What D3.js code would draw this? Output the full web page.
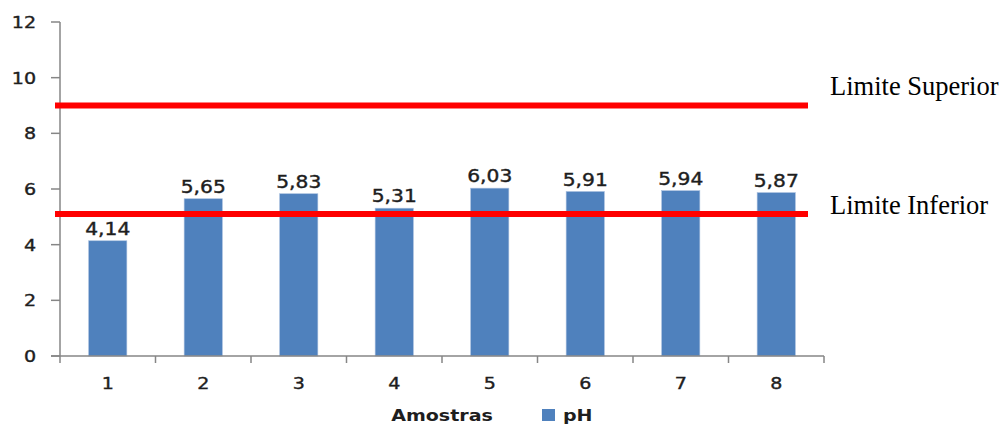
<!DOCTYPE html>
<html>
<head>
<meta charset="utf-8">
<script src="https://cdn.jsdelivr.net/npm/d3@7"></script>
<style>
  html, body { margin: 0; padding: 0; background: #fff; }
  svg { display: block; }
</style>
</head>
<body>
<svg id="chart" width="1003" height="425"></svg>
<script>
// pH per sample, with the lower and upper reference limits
const amostras = ["1", "2", "3", "4", "5", "6", "7", "8"];
const phValues = [4.14, 5.65, 5.83, 5.31, 6.03, 5.91, 5.94, 5.87];
const phLabels = ["4,14", "5,65", "5,83", "5,31", "6,03", "5,91", "5,94", "5,87"];
const yTicks = [0, 2, 4, 6, 8, 10, 12];
const limites = [
  { nome: "Limite Superior", valor: 9.0 },
  { nome: "Limite Inferior", valor: 5.1 }
];

const svg = d3.select("#chart");
const X0 = 60, X1 = 824, Y0 = 356, Y1 = 22;
const STRETCH = 1.19;
const axisColor = "#868686";
const textColor = "#1e1e1e";

const x = d3.scaleBand().domain(amostras).range([X0, X1])
  .paddingInner(0.6).paddingOuter(0.3);
const y = d3.scaleLinear().domain([0, 12]).range([Y0, Y1]);

// horizontally widened text, as in the spreadsheet rendering
function wideText(g, px, py, str, opts) {
  const t = g.append("text")
    .attr("transform", `translate(${px},${py}) scale(${STRETCH},1)`)
    .attr("text-anchor", opts.anchor || "middle")
    .attr("font-family", "'DejaVu Sans', Verdana, sans-serif")
    .attr("font-size", opts.size || 16)
    .attr("font-weight", opts.weight || "normal")
    .attr("fill", textColor)
    .text(str);
  if (!opts.weight) {
    t.attr("stroke", textColor).attr("stroke-width", 0.4);
  }
  return t;
}

// bars
svg.append("g").selectAll("rect")
  .data(phValues)
  .join("rect")
  .attr("x", (d, i) => x(amostras[i]))
  .attr("y", d => y(d))
  .attr("width", x.bandwidth())
  .attr("height", d => y(0) - y(d))
  .attr("fill", "#4F81BD")
  .attr("stroke", "#A7BFDE")
  .attr("stroke-width", 0.6);

// y axis
const gy = svg.append("g");
gy.append("line").attr("x1", X0).attr("x2", X0).attr("y1", y(12)).attr("y2", y(0))
  .attr("stroke", axisColor).attr("stroke-width", 1.5);
yTicks.forEach(t => {
  gy.append("line").attr("x1", X0 - 9).attr("x2", X0).attr("y1", y(t)).attr("y2", y(t))
    .attr("stroke", axisColor).attr("stroke-width", 1.5);
  wideText(gy, 36, y(t) + 6, String(t), { anchor: "end", size: 16 });
});

// x axis
const gx = svg.append("g");
gx.append("line").attr("x1", X0 - 9).attr("x2", X1).attr("y1", Y0).attr("y2", Y0)
  .attr("stroke", axisColor).attr("stroke-width", 1.5);
const half = x.step() * x.paddingInner() / 2;
const bounds = amostras.map(c => x(c) - half).concat([x(amostras[amostras.length - 1]) + x.bandwidth() + half]);
bounds.forEach(b => {
  gx.append("line").attr("x1", b).attr("x2", b).attr("y1", Y0).attr("y2", Y0 + 7)
    .attr("stroke", axisColor).attr("stroke-width", 1.5);
});
amostras.forEach(c => {
  wideText(gx, x(c) + x.bandwidth() / 2, 389, c, { size: 16 });
});

// value labels
const gl = svg.append("g");
phValues.forEach((v, i) => {
  wideText(gl, x(amostras[i]) + x.bandwidth() / 2, y(v) - 6, phLabels[i], { size: 17 });
});

// limit lines
const gr = svg.append("g");
limites.forEach(l => {
  gr.append("line").attr("x1", 55).attr("x2", 808)
    .attr("y1", y(l.valor)).attr("y2", y(l.valor))
    .attr("stroke", "#FF0000").attr("stroke-width", 6);
});
gr.append("text").attr("x", 830).attr("y", 95)
  .attr("font-family", "'Liberation Serif', 'Times New Roman', serif")
  .attr("font-size", 26.5).attr("fill", "#000").text(limites[0].nome);
gr.append("text").attr("x", 830).attr("y", 214)
  .attr("font-family", "'Liberation Serif', 'Times New Roman', serif")
  .attr("font-size", 26.5).attr("fill", "#000").text(limites[1].nome);

// axis title and legend
const gleg = svg.append("g");
wideText(gleg, 442, 421, "Amostras", { size: 16, weight: "bold" });
gleg.append("rect").attr("x", 542).attr("y", 409).attr("width", 13).attr("height", 12)
  .attr("fill", "#4F81BD");
wideText(gleg, 563, 421, "pH", { anchor: "start", size: 16, weight: "bold" });
</script>
</body>
</html>
